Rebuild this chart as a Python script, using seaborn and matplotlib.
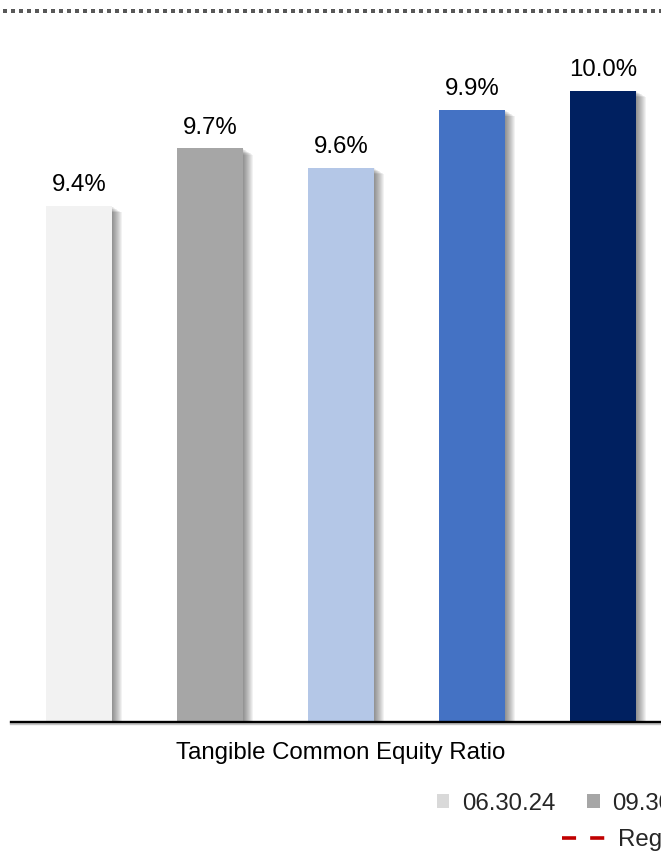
import matplotlib
matplotlib.use("Agg")
import matplotlib.pyplot as plt
import matplotlib.patheffects as pe
from matplotlib.lines import Line2D
from matplotlib.patches import Patch
import pandas as pd
import seaborn as sns

# --- data -------------------------------------------------------------
metric = ["Tangible Common Equity Ratio"]
periods = ["06.30.24", "09.30.24", "12.31.24", "03.31.25", "06.30.25"]
tce_ratio = [9.4, 9.7, 9.6, 9.9, 10.0]
bar_colors = ["#f2f2f2", "#a6a6a6", "#b4c7e7", "#4472c4", "#002060"]
legend_colors = ["#d9d9d9", "#a6a6a6", "#b4c7e7", "#4472c4", "#002060"]
reg_label = "Regulatory Minimum"

df = pd.DataFrame({
    "metric": metric * len(periods),
    "period": periods,
    "value": tce_ratio,
})

# --- style ------------------------------------------------------------
sns.set_theme(style="white")
plt.rcParams["font.family"] = ["Liberation Sans", "DejaVu Sans"]
FS = 17.3

W, H = 661, 852
fig = plt.figure(figsize=(W / 100, H / 100), dpi=100)
fig.patch.set_facecolor("white")

# axes run past the right edge of the canvas
ax_left, ax_bottom, ax_top = 11, 722, 30
ax = fig.add_axes([ax_left / W, 1 - ax_bottom / H, 2.0, (ax_bottom - ax_top) / H])
ax.set_facecolor("white")

sns.barplot(data=df, x="metric", y="value", hue="period", hue_order=periods,
            palette=bar_colors, width=0.8, gap=0.5, saturation=1,
            legend=False, ax=ax, zorder=2)

px_per_unit = 819.0
x0 = -0.403
ax.set_xlim(x0, x0 + 2.0 * W / px_per_unit)
ax.set_ylim(6.72, 10.315)

# soft drop shadow on each bar
shadow = [pe.SimplePatchShadow(offset=(k * 0.72, -k * 0.45), shadow_rgbFace="black",
                               alpha=0.05) for k in range(1, 11)]
for cont in ax.containers:
    for bar in cont:
        bar.set_path_effects(shadow + [pe.Normal()])
        bar.set_edgecolor("none")

# value labels
for cont, val in zip(ax.containers, tce_ratio):
    for bar in cont:
        ax.annotate(f"{val:.1f}%", (bar.get_x() + bar.get_width() / 2, bar.get_height()),
                    xytext=(0, 15), textcoords="offset points",
                    ha="center", va="center", fontsize=FS, color="black")

for s in ["left", "right", "top"]:
    ax.spines[s].set_visible(False)
ax.spines["bottom"].set_color("black")
ax.spines["bottom"].set_linewidth(1.7)
ax.spines["bottom"].set_path_effects([pe.SimpleLineShadow(offset=(0, -1.5), alpha=0.25),
                                      pe.Normal()])
ax.set_yticks([])
ax.set_xlabel("")
ax.set_ylabel("")
ax.tick_params(axis="x", length=0, pad=14.5, labelsize=FS, labelcolor="black")

# dotted rule across the top
fig.add_artist(Line2D([0, 1], [1 - 11 / H] * 2, transform=fig.transFigure,
                      color="#595959", lw=2.88, linestyle=(1.25, (1, 1)),
                      dash_capstyle="butt"))

# legends
period_handles = [Patch(facecolor=c, edgecolor="none") for c in legend_colors]
leg1 = fig.legend(period_handles, periods, loc="center left",
                  bbox_to_anchor=(437 / W, 1 - 804 / H), ncol=len(periods),
                  frameon=False, fontsize=FS, handlelength=0.52, handleheight=0.52,
                  handletextpad=0.52, columnspacing=1.33, borderpad=0,
                  borderaxespad=0)
reg_handle = Line2D([], [], color="#c00000", lw=2.6, linestyle=(0, (3.9, 3.9)),
                    dash_capstyle="butt")
leg2 = fig.legend([reg_handle], [reg_label], loc="center left",
                  bbox_to_anchor=(562 / W, 1 - 840 / H), frameon=False,
                  fontsize=FS, handlelength=1.8, handletextpad=0.54,
                  borderpad=0, borderaxespad=0)

fig.savefig("out.png", dpi=100, facecolor="white")
